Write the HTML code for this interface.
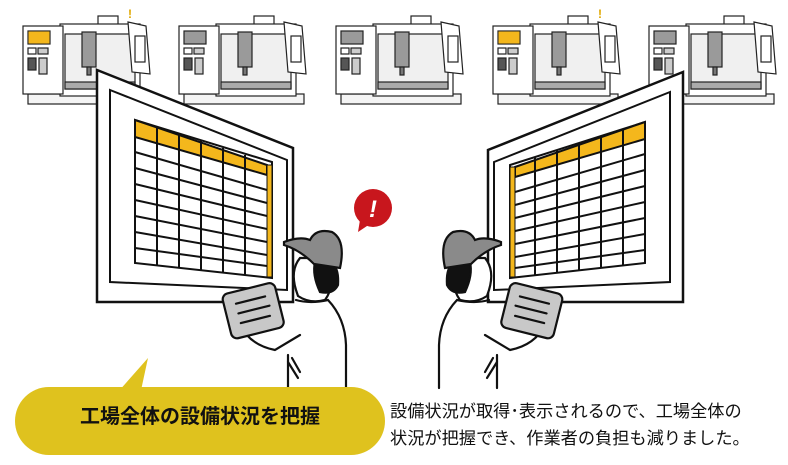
<!DOCTYPE html>
<html><head><meta charset="utf-8"><style>
html,body{margin:0;padding:0;background:#fff;}
body{width:788px;height:465px;overflow:hidden;position:relative;font-family:"Liberation Sans","Noto Sans CJK JP",sans-serif;}
svg{position:absolute;left:0;top:0;}
.t1{position:absolute;left:15px;top:400px;width:370px;text-align:center;font-size:20px;font-weight:bold;color:#111;}
.t2{position:absolute;left:390px;top:398px;font-size:17.2px;line-height:27px;color:#111;white-space:nowrap;}
</style></head><body>
<svg width="788" height="465" viewBox="0 0 788 465">
<defs>
<g id="mach" stroke="#222" stroke-width="1.2" fill="#fff">
  <rect x="8" y="80" width="120" height="10" fill="#f4f4f4"/>
  <rect x="78" y="2" width="20" height="10"/>
  <rect x="40" y="10" width="80" height="72"/>
  <rect x="45" y="20" width="70" height="55" fill="#f0f0f0"/>
  <rect x="62" y="18" width="14" height="35" fill="#9a9a9a"/>
  <rect x="67" y="53" width="4" height="8" fill="#777"/>
  <rect x="45" y="68" width="70" height="7" fill="#aaa"/>
  <polygon points="108,8 126,12 130,60 112,58" />
  <rect x="115" y="22" width="10" height="26" fill="#fff"/>
  <rect x="3" y="12" width="40" height="68"/>
  <rect x="8" y="17" width="22" height="13" fill="#9a9a9a"/>
  <rect x="8" y="34" width="8" height="6" fill="#fff"/>
  <rect x="18" y="34" width="10" height="6" fill="#ccc"/>
  <rect x="8" y="44" width="8" height="12" fill="#555"/>
  <rect x="19" y="44" width="8" height="16" fill="#ccc"/>
</g>
<g id="person" stroke="#111" stroke-width="2.2" fill="none" stroke-linecap="round">
  <path d="M296,290 Q290,270 300,258 L330,258 Q336,285 325,300 Q310,304 298,296 Z" fill="#fff"/>
  <path d="M315,262 Q340,255 338,285 Q333,295 320,292 Q312,275 315,262Z" fill="#111"/>
  <path d="M284,242 Q300,236 310,240 Q316,228 332,232 Q346,240 340,268 L314,264 Q300,250 284,245 Z" fill="#8a8a8a"/>
  <path d="M296,300 Q310,304 328,300 Q345,318 346,345 L346,388"/>
  <path d="M288,355 L288,388"/>
  <path d="M240,325 Q250,345 275,350 L300,335"/>
  <path d="M292,358 L300,372 M288,362 L298,378"/>
  <g transform="rotate(-14 252 310)">
  <rect x="226" y="288" width="54" height="46" rx="6" fill="#c8c8c8"/>
  <path d="M238,300 L268,300 M238,310 L270,310 M238,320 L268,320"/>
  </g>
</g>
</defs>
<use href="#mach" x="20" y="14"/>
<rect x="28" y="31" width="22" height="13" fill="#f4b71c" stroke="#222"/>
<use href="#mach" x="176" y="14"/>
<use href="#mach" x="333" y="14"/>
<use href="#mach" x="490" y="14"/>
<rect x="498" y="31" width="22" height="13" fill="#f4b71c" stroke="#222"/>
<use href="#mach" x="646" y="14"/>
<text x="128" y="18" font-size="12" fill="#e0a800" font-weight="bold">!</text>
<text x="598" y="18" font-size="12" fill="#e0a800" font-weight="bold">!</text>
<polygon points="97,70 293,148 293,302 97,302" fill="#fff" stroke="#111" stroke-width="2.5"/>
<polygon points="110,90 287,160 287,290 110,282" fill="#fff" stroke="#111" stroke-width="2"/>
<polygon points="135,120 272,162 272,278 135,263" fill="#fff" stroke="#111" stroke-width="2"/>
<polygon points="135,120 267,165 267,175 135,137" fill="#f4b71c" stroke="#111" stroke-width="2"/>
<rect x="267" y="165" width="5" height="112" fill="#f4b71c" stroke="#111" stroke-width="1"/>
<g stroke="#111" stroke-width="2">
<line x1="157" y1="127" x2="157" y2="266"/><line x1="179" y1="134" x2="179" y2="268"/>
<line x1="201" y1="141" x2="201" y2="270"/><line x1="223" y1="148" x2="223" y2="272"/>
<line x1="245" y1="155" x2="245" y2="275"/>
<line x1="135" y1="152" x2="267" y2="190"/><line x1="135" y1="168" x2="267" y2="203"/>
<line x1="135" y1="184" x2="267" y2="216"/><line x1="135" y1="200" x2="267" y2="229"/>
<line x1="135" y1="216" x2="267" y2="242"/><line x1="135" y1="232" x2="267" y2="255"/>
<line x1="135" y1="248" x2="267" y2="266"/>
</g>
<g transform="translate(785,0) scale(-1,1)">
<polygon points="102,72 297,150 297,302 102,302" fill="#fff" stroke="#111" stroke-width="2.5"/>
<polygon points="115,92 291,162 291,290 115,282" fill="#fff" stroke="#111" stroke-width="2"/>
<polygon points="140,122 275,165 275,278 140,263" fill="#fff" stroke="#111" stroke-width="2"/>
<polygon points="140,122 270,167 270,177 140,139" fill="#f4b71c" stroke="#111" stroke-width="2"/>
<rect x="270" y="167" width="5" height="110" fill="#f4b71c" stroke="#111" stroke-width="1"/>
<g stroke="#111" stroke-width="2">
<line x1="162" y1="129" x2="162" y2="266"/><line x1="184" y1="136" x2="184" y2="268"/>
<line x1="206" y1="143" x2="206" y2="270"/><line x1="228" y1="150" x2="228" y2="272"/>
<line x1="250" y1="157" x2="250" y2="275"/>
<line x1="140" y1="154" x2="270" y2="192"/><line x1="140" y1="170" x2="270" y2="205"/>
<line x1="140" y1="186" x2="270" y2="218"/><line x1="140" y1="202" x2="270" y2="231"/>
<line x1="140" y1="218" x2="270" y2="244"/><line x1="140" y1="234" x2="270" y2="257"/>
<line x1="140" y1="250" x2="270" y2="268"/>
</g>
</g>
<use href="#person"/>
<use href="#person" transform="translate(785,0) scale(-1,1)"/>
<circle cx="373" cy="208" r="19" fill="#c8161d"/>
<polygon points="360,220 358,232 370,224" fill="#c8161d"/>
<text x="373" y="217" font-size="24" font-weight="bold" fill="#fff" text-anchor="middle" font-style="italic">!</text>
<polygon points="118,392 148,358 140,395" fill="#dfc21e"/>
<rect x="15" y="387" width="370" height="68" rx="34" fill="#dfc21e"/>
</svg>
<div class="t1">工場全体の設備状況を把握</div>
<div class="t2">設備状況が取得･表示されるので、工場全体の<br>状況が把握でき、作業者の負担も減りました。</div>
</body></html>
